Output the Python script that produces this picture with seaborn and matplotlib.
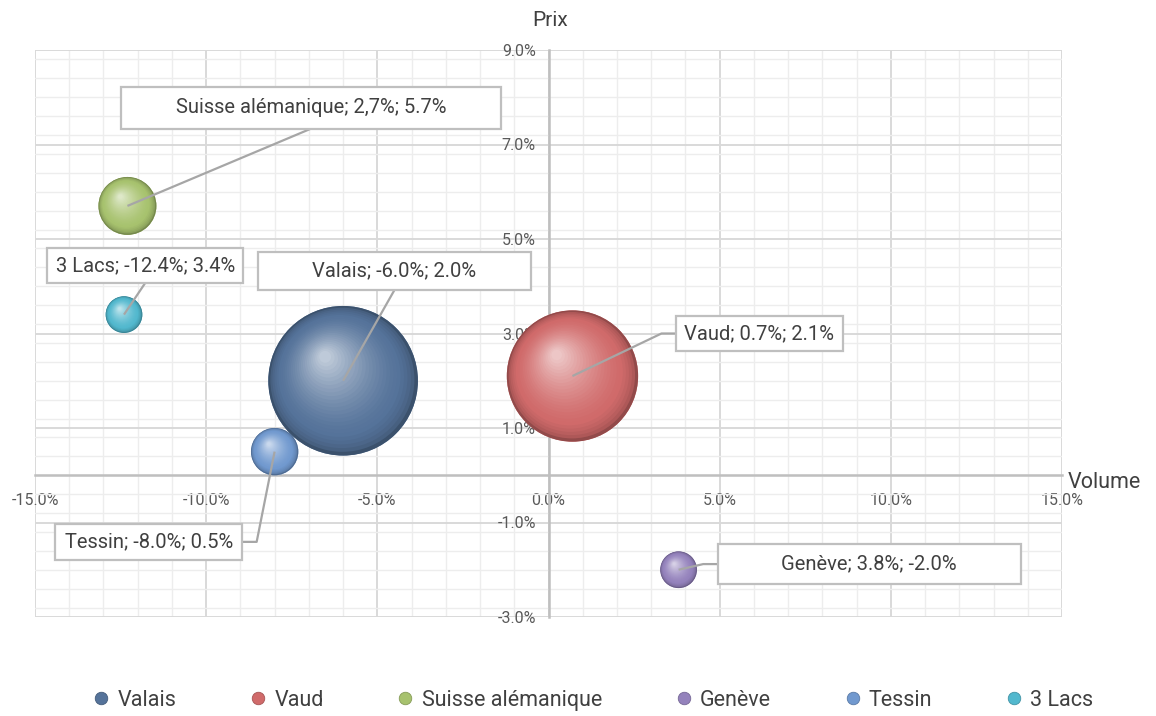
import numpy as np
import pandas as pd
import matplotlib
matplotlib.use("Agg")
import matplotlib.pyplot as plt
import seaborn as sns
import matplotlib.colors as mcolors
from matplotlib.transforms import ScaledTranslation
from matplotlib.patches import Rectangle
from matplotlib.lines import Line2D
from matplotlib.ticker import MultipleLocator, FuncFormatter, FixedLocator

# ---------------- data ----------------
regions = ["Valais", "Vaud", "Suisse alémanique", "Genève", "Tessin", "3 Lacs"]
volume = [-6.0, 0.7, -12.3, 3.8, -8.0, -12.4]      # x, %
prix = [2.0, 2.1, 5.7, -2.0, 0.5, 3.4]             # y, %
weight = [100, 77, 15, 6, 10, 6]                   # bubble size
label_texts = ["Valais; -6.0%; 2.0%", "Vaud; 0.7%; 2.1%",
               "Suisse alémanique; 2,7%; 5.7%", "Genève; 3.8%; -2.0%",
               "Tessin; -8.0%; 0.5%", "3 Lacs; -12.4%; 3.4%"]
x_ticks = [-15, -10, -5, 0, 5, 10, 15]
y_ticks = [-3, -1, 1, 3, 5, 7, 9]

# ---------------- styles / layout ----------------
colors = ["#55739A", "#D06A6A", "#A7C26E", "#9482BC", "#7199CF", "#52B8CE"]
# label boxes: center x, center y, width, height (data units), leader side
label_layout = {
    "Valais": (-4.50, 4.32, 7.98, 0.80, "bottom"),
    "Vaud": (6.16, 3.00, 4.88, 0.76, "left"),
    "Suisse alémanique": (-6.94, 7.78, 11.08, 0.89, "bottom"),
    "Genève": (9.37, -1.88, 8.86, 0.84, "left"),
    "Tessin": (-11.68, -1.41, 5.47, 0.76, "right"),
    "3 Lacs": (-11.78, 4.44, 5.73, 0.74, "bottom"),
}
elbow = 0.42
area_per_unit = 116.0   # pt^2 per weight unit

sns.set_theme(style="white")
plt.rcParams['font.family'] = ['Roboto', 'DejaVu Sans']
text_color = "#404040"
grid_major = "#D9D9D9"
grid_minor = "#EDEDED"
axis_color = "#BFBFBF"

df = pd.DataFrame({"Région": regions, "Volume": volume, "Prix": prix,
                   "Poids": weight})

fig = plt.figure(figsize=(11.56, 7.16), dpi=100)
ax = fig.add_axes([35/1156, 99/716, 1027/1156, 567/716])

sns.scatterplot(data=df, x="Volume", y="Prix", hue="Région", palette=colors,
                size="Poids",
                sizes=(min(weight)*area_per_unit, max(weight)*area_per_unit),
                legend=False, edgecolor="none", linewidth=0, alpha=1,
                ax=ax, zorder=3)

# sphere shading layers
N = 26
for i, r in enumerate(regions):
    base = np.array(mcolors.to_rgb(colors[i]))
    dark = base * 0.70
    light = base + (1 - base) * 0.62
    s_full = weight[i] * area_per_unit
    R = np.sqrt(s_full) / 2.0  # radius in points
    for k in range(0, N):
        t = k / (N - 1)
        rf = 1 - 0.92 * t
        if t < 0.2:
            c = dark + (base - dark) * (t / 0.2) ** 0.5
        else:
            c = base + (light - base) * ((t - 0.2) / 0.8) ** 1.4
        dx = -0.24 * R * t
        dy = 0.32 * R * t
        tr = ax.transData + ScaledTranslation(dx / 72, dy / 72, fig.dpi_scale_trans)
        ax.scatter([volume[i]], [prix[i]], s=(2 * R * rf) ** 2, color=c,
                   edgecolor="none", transform=tr, zorder=3 + k * 0.001)

# labels with leader lines
for i, r in enumerate(regions):
    cx, cy, w, h, side = label_layout[r]
    if side == "bottom":
        xs, ys = [volume[i], cx], [prix[i], cy - h / 2]
    elif side == "left":
        xs = [volume[i], cx - w / 2 - elbow, cx - w / 2]
        ys = [prix[i], cy, cy]
    else:
        xs = [volume[i], cx + w / 2 + elbow, cx + w / 2]
        ys = [prix[i], cy, cy]
    ax.plot(xs, ys, color="#A6A6A6", lw=1.6, zorder=4, solid_capstyle="butt")
    ax.add_patch(Rectangle((cx - w / 2, cy - h / 2), w, h, facecolor="white",
                           edgecolor="#BFBFBF", lw=1.6, zorder=5))
    ax.text(cx, cy, label_texts[i], ha="center", va="center", fontsize=14.5,
            color=text_color, zorder=6)

# axes
ax.set_xlim(x_ticks[0], x_ticks[-1])
ax.set_ylim(y_ticks[0], y_ticks[-1])
ax.xaxis.set_major_locator(FixedLocator(x_ticks))
ax.yaxis.set_major_locator(FixedLocator(y_ticks))
ax.xaxis.set_minor_locator(MultipleLocator(1))
ax.yaxis.set_minor_locator(MultipleLocator(0.4))
fmt = FuncFormatter(lambda v, p: f"{v:.1f}%")
ax.xaxis.set_major_formatter(fmt)
ax.yaxis.set_major_formatter(fmt)
ax.grid(which="major", color=grid_major, lw=1.4, zorder=0)
ax.grid(which="minor", color=grid_minor, lw=1.0, zorder=0)
ax.set_axisbelow(True)
for sp in ["top", "right"]:
    ax.spines[sp].set_visible(False)
ax.spines["left"].set_position(("data", 0))
ax.spines["bottom"].set_position(("data", 0))
for sp in ["left", "bottom"]:
    ax.spines[sp].set_color(axis_color)
    ax.spines[sp].set_linewidth(1.8)
ax.tick_params(which="major", direction="out", length=4, width=1.2,
               color=axis_color, labelsize=11.5, labelcolor="#595959")
ax.tick_params(axis="x", which="major", pad=9)
ax.tick_params(axis="y", which="major", pad=5)
ax.tick_params(which="minor", length=0)
ax.set_xlabel("")
ax.set_ylabel("")

fig.text(550 / 1156, 1 - 20 / 716, "Prix", ha="center", va="center",
         fontsize=15, color=text_color)
fig.text(1068 / 1156, 1 - 482 / 716, "Volume", ha="left", va="center",
         fontsize=15.5, color=text_color)

handles = [Line2D([0], [0], marker="o", linestyle="none", markersize=9,
                  markerfacecolor=colors[i],
                  markeredgecolor=np.array(mcolors.to_rgb(colors[i])) * 0.8,
                  markeredgewidth=0.6, label=r)
           for i, r in enumerate(regions)]
fig.legend(handles=handles, loc="center", bbox_to_anchor=(0.512, 0.022),
           ncol=6, frameon=False, fontsize=15.5, columnspacing=3.3,
           handletextpad=0.25, handlelength=1.0, labelcolor=text_color)

fig.savefig("out.png", dpi=100)
